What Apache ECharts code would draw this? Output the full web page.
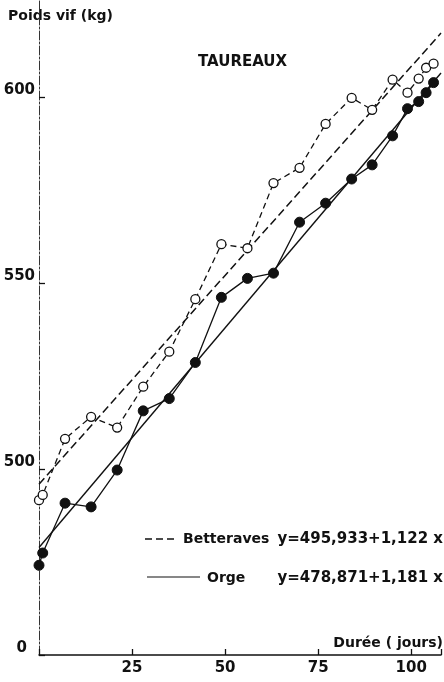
<!DOCTYPE html>
<html>
<head>
<meta charset="utf-8">
<script src="https://cdn.jsdelivr.net/npm/echarts@6/dist/echarts.min.js"></script>
<style>
  html, body { margin: 0; padding: 0; background: #fff; }
  #chart { width: 444px; height: 682px; }
</style>
</head>
<body>
<div id="chart"></div>
<script>
// weighing days (jours) and live weight (kg)
const days = [0, 1, 7, 14, 21, 28, 35, 42, 49, 56, 63, 70, 77, 84, 89.5, 95, 99, 102, 104, 106];
const betteraves = [491.6, 493.0, 508.1, 514.0, 511.1, 522.1, 531.5, 545.6, 560.4, 559.3,
                    576.8, 580.9, 592.7, 599.7, 596.5, 604.6, 601.1, 604.9, 607.8, 608.9];
const orge = [474.1, 477.4, 490.8, 489.8, 499.7, 515.6, 518.9, 528.6, 546.1, 551.2,
              552.6, 566.3, 571.4, 577.9, 581.7, 589.5, 596.8, 598.7, 601.1, 603.8];

// fitted lines, end points from the printed equations
const betteravesFit = [[0, 495.9], [108, 617.1]];
const orgeFit = [[0, 478.9], [108, 606.4]];
const betteravesEq = 'y=495,933+1,122 x';
const orgeEq = 'y=478,871+1,181 x';

const yTickValues = [450, 500, 550, 600];
const yTickLabels = ['0', '500', '550', '600'];   // axis is broken: bottom is labelled 0
const xTickValues = [25, 50, 75, 100];
const xTickLabels = ['25', '50', '75', '100'];

const FONT = '"DejaVu Sans", sans-serif';
const INK = '#111';

const pairs = (xs, ys) => xs.map((x, i) => [x, ys[i]]);

const chart = echarts.init(document.getElementById('chart'));

const option = {
    backgroundColor: '#fff',
    animation: false,
    grid: { left: 39, right: 0, top: 0, bottom: 27 },
    xAxis: {
        type: 'value',
        min: 0,
        max: 108,
        interval: 25,
        splitLine: { show: false },
        axisLine: { lineStyle: { color: INK, width: 1.5 } },
        axisTick: { inside: true, length: 6, lineStyle: { color: INK, width: 1.3 } },
        axisLabel: {
            margin: 6,
            color: INK,
            fontFamily: FONT,
            fontWeight: 'bold',
            fontSize: 15,
            formatter: v => {
                const i = xTickValues.indexOf(v);
                return i < 0 ? '' : xTickLabels[i];
            }
        }
    },
    yAxis: {
        type: 'value',
        min: 450,
        max: 626,
        interval: 50,
        splitLine: { show: false },
        axisLine: { lineStyle: { color: '#333', width: 1, type: [9, 2, 2, 2] } },
        axisTick: { inside: true, length: 6, lineStyle: { color: INK, width: 1.3 } },
        axisLabel: {
            showMaxLabel: false,
            margin: 4,
            verticalAlign: 'bottom',
            lineHeight: 13,
            color: INK,
            fontFamily: FONT,
            fontWeight: 'bold',
            fontSize: 15,
            formatter: v => {
                const i = yTickValues.indexOf(v);
                if (i < 0) return '';
                return i === 0 ? '{z|' + yTickLabels[i] + '}' : yTickLabels[i];
            },
            rich: {
                z: { padding: [0, 8, 0, 0], fontFamily: FONT, fontWeight: 'bold', fontSize: 15, color: INK }
            }
        }
    },
    series: [
        {
            name: 'Betteraves fit',
            type: 'line',
            data: betteravesFit,
            symbol: 'none',
            lineStyle: { color: INK, width: 1.5, type: [8, 4] },
            z: 2
        },
        {
            name: 'Orge fit',
            type: 'line',
            data: orgeFit,
            symbol: 'none',
            lineStyle: { color: INK, width: 1.4 },
            z: 2
        },
        {
            name: 'Betteraves',
            type: 'line',
            data: pairs(days, betteraves),
            symbol: 'circle',
            symbolSize: 9,
            itemStyle: { color: '#fff', borderColor: INK, borderWidth: 1.3 },
            lineStyle: { color: INK, width: 1.3, type: [6, 4] },
            z: 3
        },
        {
            name: 'Orge',
            type: 'line',
            data: pairs(days, orge),
            symbol: 'circle',
            symbolSize: 10,
            itemStyle: { color: INK, borderColor: INK, borderWidth: 1 },
            lineStyle: { color: INK, width: 1.3 },
            z: 4
        }
    ],
    graphic: [
        { type: 'text', x: 8, y: 16, style: { text: 'Poids vif (kg)', font: `bold 14px ${FONT}`, fill: INK, verticalAlign: 'middle' } },
        { type: 'text', x: 198, y: 62, style: { text: 'TAUREAUX', font: `bold 15px ${FONT}`, fill: INK, verticalAlign: 'middle' } },
        { type: 'text', x: 443, y: 643, style: { text: 'Durée ( jours)', font: `bold 14px ${FONT}`, fill: INK, align: 'right', verticalAlign: 'middle' } },

        // key
        { type: 'line', shape: { x1: 145, y1: 539, x2: 178, y2: 539 }, style: { stroke: INK, lineWidth: 1.4, lineDash: [7, 4] } },
        { type: 'text', x: 183, y: 539, style: { text: 'Betteraves', font: `bold 14px ${FONT}`, fill: INK, verticalAlign: 'middle' } },
        { type: 'text', x: 443, y: 539, style: { text: betteravesEq, font: `bold 15px ${FONT}`, fill: INK, align: 'right', verticalAlign: 'middle' } },
        { type: 'line', shape: { x1: 147, y1: 577, x2: 200, y2: 577 }, style: { stroke: INK, lineWidth: 1.2 } },
        { type: 'text', x: 207, y: 578, style: { text: 'Orge', font: `bold 14px ${FONT}`, fill: INK, verticalAlign: 'middle' } },
        { type: 'text', x: 443, y: 578, style: { text: orgeEq, font: `bold 15px ${FONT}`, fill: INK, align: 'right', verticalAlign: 'middle' } }
    ]
};

chart.setOption(option);
</script>
</body>
</html>
